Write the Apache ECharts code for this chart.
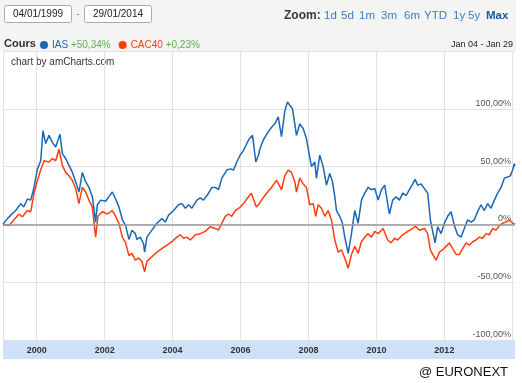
<!DOCTYPE html>
<html><head><meta charset="utf-8">
<script src="https://cdn.jsdelivr.net/npm/echarts@6/dist/echarts.min.js"></script>
<style>html,body{margin:0;padding:0;background:#fff}#c{width:522px;height:383px}</style>
</head><body><div id="c"></div>
<script>
// ---- data (dates as decimal years, values in % change since 04/01/1999) ----
const iasDates = [1999.008,1999.138,1999.235,1999.382,1999.529,1999.618,1999.726,1999.824,1999.921,2000.021,2000.118,2000.185,2000.265,2000.362,2000.462,2000.559,2000.685,2000.756,2000.853,2000.950,2001.050,2001.147,2001.244,2001.344,2001.441,2001.538,2001.638,2001.735,2001.785,2001.882,2002.029,2002.126,2002.226,2002.324,2002.421,2002.521,2002.618,2002.715,2002.803,2002.903,2002.950,2003.050,2003.147,2003.176,2003.244,2003.391,2003.538,2003.685,2003.785,2003.882,2004.029,2004.176,2004.274,2004.374,2004.471,2004.568,2004.715,2004.815,2004.912,2005.059,2005.156,2005.256,2005.353,2005.450,2005.597,2005.697,2005.794,2005.891,2005.991,2006.088,2006.185,2006.256,2006.353,2006.450,2006.529,2006.568,2006.668,2006.815,2006.912,2007.009,2007.109,2007.206,2007.303,2007.382,2007.450,2007.529,2007.597,2007.647,2007.744,2007.844,2007.941,2008.038,2008.088,2008.185,2008.235,2008.332,2008.432,2008.529,2008.626,2008.706,2008.774,2008.824,2008.921,2009.000,2009.068,2009.168,2009.265,2009.362,2009.462,2009.559,2009.656,2009.756,2009.853,2009.950,2010.050,2010.147,2010.244,2010.332,2010.382,2010.479,2010.579,2010.676,2010.774,2010.874,2010.971,2011.068,2011.138,2011.215,2011.315,2011.412,2011.509,2011.588,2011.656,2011.726,2011.803,2011.903,2012.000,2012.097,2012.197,2012.294,2012.391,2012.491,2012.588,2012.685,2012.785,2012.882,2012.979,2013.079,2013.176,2013.274,2013.374,2013.471,2013.568,2013.668,2013.765,2013.862,2013.941,2014.009,2014.059,2014.079];
const iasValues = [0,5,8,12,18,15,22,21,32,48,55,81,70,77,71,67,78,61,57,51,45,37,28,45,37,32,24,2,17,21,20,24,28,22,15,4,-1,-13,-5,-8,-13,-11,-17,-24,-11,-5,1,5,2,8,12,17,18,14,17,14,21,23,21,27,32,32,30,40,47,48,47,54,60,64,70,74,77,54,60,65,73,80,84,87,93,76,98,106,103,100,87,77,87,83,74,58,50,54,40,60,50,34,44,37,24,12,7,1,-11,-25,-8,12,1,21,27,32,30,31,21,30,34,18,9,21,24,21,27,25,30,35,39,34,35,31,27,4,-6,-16,-2,-8,1,7,11,-1,-9,-11,-3.5,4,2,4,11,17,12,18,14,21,27,32,40,41,42,47,52.5,50.34];
const cacDates = [1999.008,1999.185,1999.332,1999.479,1999.579,1999.726,1999.824,1999.921,2000.021,2000.118,2000.215,2000.362,2000.462,2000.559,2000.656,2000.756,2000.853,2000.950,2001.050,2001.147,2001.244,2001.344,2001.441,2001.538,2001.638,2001.735,2001.803,2001.932,2002.079,2002.226,2002.324,2002.421,2002.521,2002.618,2002.715,2002.803,2002.903,2003.000,2003.097,2003.176,2003.244,2003.391,2003.538,2003.685,2003.832,2003.979,2004.126,2004.226,2004.324,2004.421,2004.521,2004.668,2004.815,2004.962,2005.109,2005.256,2005.353,2005.450,2005.550,2005.647,2005.744,2005.844,2005.991,2006.088,2006.185,2006.315,2006.382,2006.462,2006.529,2006.618,2006.765,2006.912,2007.059,2007.206,2007.303,2007.403,2007.500,2007.597,2007.647,2007.744,2007.844,2007.941,2008.038,2008.138,2008.215,2008.285,2008.382,2008.479,2008.579,2008.676,2008.774,2008.874,2008.971,2009.068,2009.168,2009.265,2009.362,2009.462,2009.559,2009.656,2009.756,2009.853,2009.950,2010.050,2010.197,2010.244,2010.332,2010.432,2010.529,2010.626,2010.774,2010.921,2011.068,2011.147,2011.265,2011.412,2011.509,2011.588,2011.656,2011.756,2011.853,2011.950,2012.050,2012.147,2012.244,2012.344,2012.441,2012.538,2012.638,2012.735,2012.832,2012.932,2013.029,2013.126,2013.226,2013.324,2013.421,2013.521,2013.618,2013.715,2013.815,2013.912,2014.009,2014.079];
const cacValues = [0,-1,4,9,6.6,12,11,27,38,47,55,54,57,55,65,51,45,42,38,31,18,32,28,21,15,-11,7,11,9,12,7,1,-11,-16,-27,-25,-31,-29,-32,-41,-32,-28,-24,-21,-18,-15,-11,-9,-12,-11,-13.5,-9,-8,-6,-2,-3.5,-5,1,7,9,7,12,15,18,22,27,22,15,17,21,27,32,38,30,42,47,45,37,28,40,35,32,17,18,7,17,14,7,12,4,-13.5,-24,-22,-29,-38,-26,-19,-25,-15,-11,-8,-11,-6,-8,-3.5,-2,-13.5,-16,-12,-13.5,-9,-6,-3.5,-1.5,-5,-3.5,-8,-22,-26,-31,-24,-22,-19,-16,-21,-26,-26,-21,-16,-18,-15,-13.5,-11,-12,-8,-9,-3.5,-5,-1,1,2,4,1,0.23];
const seriesNames = ['IAS','CAC40'];
const gridYears = [1999.008,2000,2002,2004,2006,2008,2010,2012,2014];
const labelYears = [2000,2002,2004,2006,2008,2010,2012];
const yMin = -100, yMax = 150, yStep = 50;
const startDate = '04/01/1999', endDate = '29/01/2014';
const periodText = 'Jan 04 - Jan 29';
const zoomButtons = ['1d','5d','1m','3m','6m','YTD','1y','5y','Max'];

// ---- styling ----
const BLUE = '#1b67b5', RED = '#ff3d0d', GREEN = '#62ad54';
const FONT = 'Liberation Sans, Arial, sans-serif';
const pair = (d, v) => d.map((x, i) => [x, v[i]]);
const pct = v => (v >= 0 ? '+' : '') + v.toFixed(2).replace('.', ',') + '%';
const lastIas = iasValues[iasValues.length - 1];
const lastCac = cacValues[cacValues.length - 1];
const changeOf = {IAS: pct(lastIas), CAC40: pct(lastCac)};

const zoomX = [324, 341, 359, 381, 404, 424, 453, 468, 486];
const graphics = [
  {type:'rect', z:-10, shape:{x:0,y:0,width:516,height:51}, style:{fill:'#f4f4f2'}},
  {type:'rect', z:-10, shape:{x:3,y:340.5,width:512,height:18.5}, style:{fill:'#cfe1f8'}},
  {type:'rect', shape:{x:4.5,y:5.5,width:67,height:17,r:2}, style:{fill:'#fff',stroke:'#a9a9a9',lineWidth:1}},
  {type:'text', style:{x:38,y:14,text:startDate,align:'center',verticalAlign:'middle',font:'10px '+FONT,fill:'#222'}},
  {type:'text', style:{x:78,y:14,text:'-',align:'center',verticalAlign:'middle',font:'10px '+FONT,fill:'#888'}},
  {type:'rect', shape:{x:84.5,y:5.5,width:67,height:17,r:2}, style:{fill:'#fff',stroke:'#a9a9a9',lineWidth:1}},
  {type:'text', style:{x:118,y:14,text:endDate,align:'center',verticalAlign:'middle',font:'10px '+FONT,fill:'#222'}},
  {type:'text', style:{x:284,y:16,text:'Zoom:',align:'left',verticalAlign:'middle',font:'bold 12px '+FONT,fill:'#3a3a3a'}},
  {type:'text', style:{x:4,y:44,text:'Cours',align:'left',verticalAlign:'middle',font:'bold 11px '+FONT,fill:'#333'}},
  {type:'text', style:{x:513,y:45,text:periodText,align:'right',verticalAlign:'middle',font:'9px '+FONT,fill:'#222'}},
  {type:'text', style:{x:11,y:62,text:'chart by amCharts.com',align:'left',verticalAlign:'middle',font:'10px '+FONT,fill:'#333'}},
  {type:'text', style:{x:508,y:372,text:'@ EURONEXT',align:'right',verticalAlign:'middle',font:'13px '+FONT,fill:'#111'}}
];
zoomButtons.forEach((b, i) => graphics.push({type:'text', style:{x:zoomX[i], y:16, text:b, align:'left', verticalAlign:'middle',
  font:(b === 'Max' ? 'bold ' : '') + '11.5px ' + FONT, fill: b === 'Max' ? '#1d5a9c' : '#3b7dc4'}}));

const chart = echarts.init(document.getElementById('c'), null, {renderer:'canvas'});
chart.setOption({
  animation:false,
  backgroundColor:'#fff',
  textStyle:{fontFamily:FONT},
  grid:{left:3, right:7, top:51, bottom:43, containLabel:false},
  legend:{
    left:40, top:40, padding:0, icon:'circle', itemWidth:8, itemHeight:8, itemGap:8,
    formatter: n => '{n|' + n + '} {p|' + changeOf[n] + '}',
    textStyle:{fontSize:10, padding:[0,0,0,-1], rich:{n:{fontSize:10, fontFamily:FONT}, p:{fontSize:10, color:GREEN, fontFamily:FONT}}},
    data: [{name:seriesNames[0], textStyle:{color:BLUE}}, {name:seriesNames[1], textStyle:{color:RED}}]
  },
  xAxis:{
    type:'value', min:iasDates[0], max:iasDates[iasDates.length-1],
    axisLine:{show:false},
    axisTick:{show:false, customValues:gridYears},
    axisLabel:{customValues:labelYears, margin:6, fontSize:9, color:'#333', fontWeight:'bold', formatter: v => String(Math.round(v))},
    splitLine:{show:true, lineStyle:{color:'#e2e2e2', width:1}}
  },
  yAxis:{
    type:'value', position:'right', min:yMin, max:yMax, interval:yStep,
    axisLine:{show:false}, axisTick:{show:false},
    axisLabel:{inside:true, margin:4, fontSize:9, color:'#555', verticalAlign:'bottom', padding:[0,0,1,0],
      formatter: v => v === yMax ? '' : (v === 0 ? '0%' : v.toFixed(2).replace('.', ',') + '%')},
    splitLine:{lineStyle:{color:'#e2e2e2', width:1}}
  },
  series:[
    {name:'zero', type:'line', data:[], z:1, silent:true,
     markLine:{silent:true, symbol:'none', label:{show:false}, animation:false,
       lineStyle:{color:'#999', width:1.6, type:'solid'}, data:[{yAxis:0}]}},
    {name:seriesNames[0], type:'line', data:pair(iasDates, iasValues), showSymbol:false, z:4,
     lineStyle:{color:BLUE, width:1.5}, itemStyle:{color:BLUE}},
    {name:seriesNames[1], type:'line', data:pair(cacDates, cacValues), showSymbol:false, z:3,
     lineStyle:{color:RED, width:1.5}, itemStyle:{color:RED}}
  ],
  graphic:graphics
});
</script></body></html>
